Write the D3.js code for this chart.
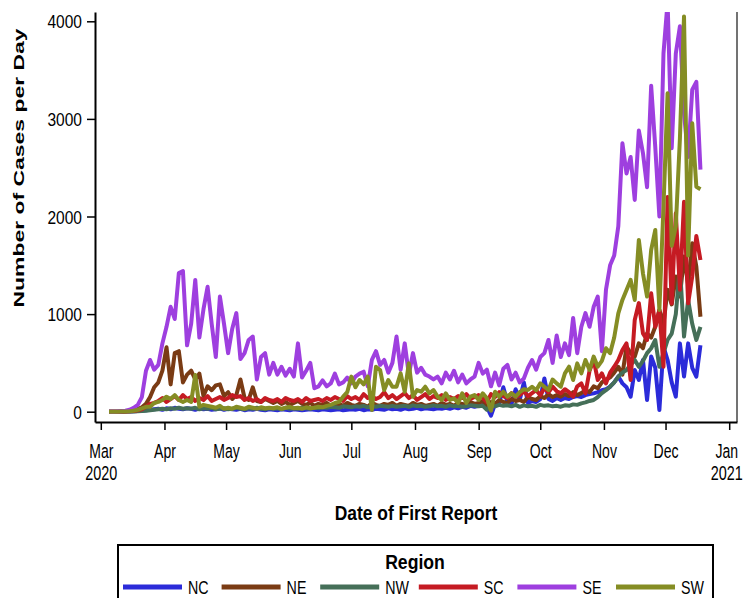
<!DOCTYPE html>
<html>
<head>
<meta charset="utf-8">
<script src="https://cdn.jsdelivr.net/npm/d3@7"></script>
<style>
  body { margin: 0; background: #fff; }
  svg { display: block; }
  text { font-family: "Liberation Sans", Arial, sans-serif; fill: #000; }
</style>
</head>
<body>
<script>
// regions and colours
var regions = ["NC", "NE", "NW", "SC", "SE", "SW"];
var colors = ["#2b2bd9", "#7a3b14", "#456f58", "#c51b23", "#9e3fdf", "#858d24"];

// one value every stepDays days, starting at firstDay
var firstDay = "2020-03-05";
var stepDays = 2;

var nc = [0, 0, 0, 0, 1, 2, 4, 6, 10, 15,
  20, 25, 30, 20, 35, 25, 40, 30, 25, 35,
  30, 20, 35, 25, 30, 20, 25, 35, 20, 30,
  25, 20, 30, 15, 25, 20, 30, 20, 15, 25,
  20, 15, 25, 20, 15, 25, 20, 15, 20, 25,
  20, 15, 25, 20, 15, 20, 25, 15, 20, 25,
  20, 30, 15, 25, 20, 30, 25, 20, 35, 25,
  30, 20, 35, 25, 30, 40, 25, 35, 30, 25,
  35, 30, 40, 30, 45, 35, 50, 40, 60, 50,
  60, 70, 50, -40, 80, 90, 250, 100, 80, 230,
  120, 300, 90, 110, 100, 130, 340, 130, 110, 140,
  120, 140, 130, 150, 160, 150, 170, 180, 188, 200,
  220, 230, 256, 300, 360, 290, 250, 154, 427, 325,
  530, 120, 565, 450, 17, 666, 530, 300, 154, 700,
  360, 700, 450, 360, 680];

var ne = [0, 0, 0, 3, 5, 10, 20, 30, 45, 80,
  150, 250, 300, 420, 660, 280, 600, 620, 300, 380,
  420, 330, 390, 160, 260, 220, 270, 280, 160, 200,
  130, 170, 330, 140, 120, 250, 110, 100, 130, 110,
  90, 110, 80, 100, 70, 90, 110, 80, 70, 90,
  60, 80, 70, 90, 60, 70, 80, 60, 90, 70,
  60, 80, 70, 50, 90, 70, 60, 80, 70, 90,
  60, 80, 70, 60, 90, 70, 80, 60, 70, 80,
  60, 90, 70, 80, 60, 90, 80, 70, 100, 80,
  90, 110, 60, 100, 80, 120, 100, 90, 130, 110,
  120, 100, 150, 130, 120, 160, 140, 180, 150, 170,
  154, 180, 160, 200, 170, 190, 220, 200, 260, 240,
  300, 330, 350, 400, 460, 380, 666, 600, 565, 700,
  650, 803, 760, 870, 1042, 900, 1250, 1100, 1385, 1180,
  1590, 1300, 1727, 1486, 973];

var nw = [0, 0, 0, 0, 1, 2, 3, 5, 8, 10,
  15, 20, 25, 30, 25, 35, 30, 40, 30, 35,
  30, 40, 25, 35, 30, 40, 25, 30, 35, 25,
  30, 40, 30, 25, 35, 30, 40, 30, 25, 35,
  30, 35, 25, 40, 30, 35, 30, 40, 35, 30,
  40, 35, 45, 40, 50, 45, 40, 55, 50, 45,
  55, 50, 60, 45, 55, 50, 60, 55, 50, 60,
  50, 55, 60, 50, 65, 55, 60, 50, 55, 65,
  55, 60, 50, 65, 55, 60, 50, 55, 65, 60,
  55, 60, 20, 65, 55, 70, 60, 65, 55, 70,
  50, 65, 55, 60, 50, 70, 60, 65, 55, 60,
  51, 65, 60, 75, 70, 85, 95, 110, 120, 150,
  190, 220, 256, 300, 360, 400, 427, 480, 530, 460,
  520, 600, 650, 735, 460, 600, 735, 800, 1000, 1486,
  770, 1145, 900, 735, 870];

var sc = [0, 0, 0, 1, 3, 5, 8, 15, 25, 50,
  80, 90, 110, 140, 100, 130, 160, 120, 170, 130,
  150, 110, 140, 120, 160, 110, 130, 150, 120, 140,
  170, 150, 160, 120, 140, 110, 130, 100, 140, 120,
  110, 130, 100, 140, 120, 110, 130, 100, 140, 110,
  120, 130, 110, 140, 120, 150, 130, 110, 160, 130,
  150, 120, 180, 140, 160, 130, 150, 200, 140, 170,
  130, 160, 190, 140, 170, 120, 150, 180, 130, 160,
  140, 170, 120, 150, 130, 160, 140, 180, 130, 150,
  170, 140, 100, 180, 150, 200, 160, 140, 190, 150,
  170, 210, 160, 190, 220, 170, 240, 200, 256, 210,
  188, 230, 200, 154, 260, 290, 188, 420, 530, 325,
  393, 290, 400, 461, 530, 632, 700, 325, 940, 1113,
  803, 735, 1213, 870, 1042, 461, 2200, 1110, 2033, 1250,
  2150, 1110, 1385, 1800, 1554];

var se = [0, 0, 2, 5, 10, 20, 40, 70, 150, 420,
  530, 430, 480, 700, 870, 1075, 950, 1420, 1440, 680,
  900, 1350, 760, 1050, 1280, 900, 560, 1180, 900, 600,
  850, 1010, 540, 600, 735, 770, 330, 560, 600, 380,
  500, 380, 460, 370, 440, 360, 700, 350, 420, 500,
  240, 260, 320, 260, 290, 390, 280, 300, 350, 290,
  360, 390, 410, 260, 530, 620, 480, 530, 400, 500,
  770, 430, 700, 380, 600, 400, 450, 380, 360, 330,
  360, 290, 400, 330, 420, 300, 380, 290, 330, 360,
  500, 390, 430, 260, 400, 270, 440, 480, 330, 400,
  300, 340, 450, 530, 430, 560, 600, 735, 500, 780,
  560, 700, 580, 960, 600, 870, 1010, 870, 1075, 1180,
  620, 1250, 1500, 1600, 1900, 2750, 2440, 2610, 2170, 2880,
  2650, 2300, 3340, 2710, 2000, 3670, 4200, 2700, 3670, 3950,
  3060, 2610, 3300, 3380, 2480];

var sw = [0, 0, 0, 1, 2, 5, 10, 20, 35, 50,
  51, 89, 100, 120, 154, 130, 170, 120, 100, 120,
  100, 375, 51, 70, 60, 50, 40, 60, 30, 40,
  30, 50, 40, 30, 50, 40, 30, 45, 35, 40,
  35, 45, 30, 40, 50, 35, 40, 30, 45, 35,
  40, 50, 45, 60, 70, 89, 100, 154, 200, 360,
  250, 325, 280, 360, 17, 460, 427, 222, 325, 256,
  256, 393, 205, 495, 154, 222, 205, 256, 188, 222,
  154, 120, 188, 120, 137, 89, 188, 89, 154, 170,
  120, 188, 137, 10, 205, 154, 205, 154, 188, 154,
  200, 230, 222, 256, 220, 290, 256, 222, 330, 290,
  256, 393, 461, 325, 495, 393, 530, 427, 565, 461,
  520, 650, 600, 760, 1008, 1145, 1247, 1350, 1145, 1760,
  1418, 1180, 1657, 1862, 1042, 2100, 3262, 1700, 1900, 2800,
  4050, 1600, 2955, 2305, 2280];

var seriesValues = [nc, ne, nw, sc, se, sw];

// axis ticks
var yTicks = [0, 1000, 2000, 3000, 4000];
var monthTicks = ["2020-03-01", "2020-04-01", "2020-05-01", "2020-06-01", "2020-07-01", "2020-08-01",
  "2020-09-01", "2020-10-01", "2020-11-01", "2020-12-01", "2021-01-01"];
var monthLabels = ["Mar", "Apr", "May", "Jun", "Jul", "Aug", "Sep", "Oct", "Nov", "Dec", "Jan"];
var yearLabels = ["2020", "", "", "", "", "", "", "", "", "", "2021"];

var w = 744, h = 598;
var pl = 95, pr = 737, pt = 12, pb = 422; // plot frame

var parseDay = d3.utcParse("%Y-%m-%d");
var start = parseDay(firstDay);

// x: Mar 1 at 100.8, Jan 1 at 729.2, then widened to the frame
var x = d3.scaleUtc().domain([parseDay("2020-03-01"), parseDay("2021-01-01")]).range([100.8, 729.2]);
x.domain([x.invert(pl), x.invert(pr)]).range([pl, pr]);

var y = d3.scaleLinear().domain([0, 4000]).range([411.7, 21.3]);
y.domain([y.invert(pb), y.invert(pt)]).range([pb, pt]);

var svg = d3.select("body").append("svg").attr("width", w).attr("height", h);

svg.append("clipPath").attr("id", "plotclip")
  .append("rect").attr("x", pl).attr("y", pt).attr("width", pr - pl).attr("height", pb - pt);

// helper for horizontally condensed text
function label(parent, tx, ty, str, size, sx, anchor, bold) {
  return parent.append("text")
    .attr("transform", "translate(" + tx + "," + ty + ") scale(" + sx + ",1)")
    .attr("text-anchor", anchor)
    .attr("font-size", size + "px")
    .attr("font-weight", bold ? "bold" : "normal")
    .text(str);
}

// lines
var line = d3.line()
  .x(function(d) { return x(d.date); })
  .y(function(d) { return y(d.value); });

var lines = svg.append("g").attr("clip-path", "url(#plotclip)");
seriesValues.forEach(function(vals, i) {
  var pts = vals.map(function(v, k) { return { date: d3.utcDay.offset(start, k * stepDays), value: v }; });
  lines.append("path")
    .attr("d", line(pts))
    .attr("fill", "none")
    .attr("stroke", colors[i])
    .attr("stroke-width", 4)
    .attr("stroke-linejoin", "round");
});

// right border
svg.append("line").attr("x1", pr).attr("x2", pr).attr("y1", pt).attr("y2", pb)
  .attr("stroke", "#444").attr("stroke-width", 1.5);

// y axis
var yAxis = svg.append("g").attr("transform", "translate(" + pl + ",0)")
  .call(d3.axisLeft(y).tickValues(yTicks).tickSize(8).tickSizeOuter(0).tickFormat(""));
yAxis.select(".domain").attr("stroke-width", 2);
yAxis.selectAll(".tick line").attr("stroke-width", 1.5);
yAxis.selectAll(".tick").each(function(d) {
  label(d3.select(this), -13, 6.5, d3.format("d")(d), 18.5, 0.84, "end", false);
});

// x axis
var xAxis = svg.append("g").attr("transform", "translate(0," + pb + ")")
  .call(d3.axisBottom(x).tickValues(monthTicks.map(parseDay)).tickSize(8).tickSizeOuter(0).tickFormat(""));
xAxis.select(".domain").attr("stroke-width", 2);
xAxis.selectAll(".tick line").attr("stroke-width", 1.5);
xAxis.selectAll(".tick").each(function(d, i) {
  var g = d3.select(this);
  var shift = i === monthTicks.length - 1 ? -3 : 0;
  label(g, shift, 36, monthLabels[i], 19.5, 0.72, "middle", false);
  if (yearLabels[i]) label(g, shift, 58, yearLabels[i], 19.5, 0.74, "middle", false);
});

// axis titles
label(svg, (pl + pr) / 2, 520, "Date of First Report", 20.5, 0.85, "middle", true);
svg.append("text")
  .attr("transform", "translate(24,168) rotate(-90) scale(1.48,1)")
  .attr("text-anchor", "middle")
  .attr("font-size", "15.5px")
  .attr("font-weight", "bold")
  .text("Number of Cases per Day");

// legend
var legend = svg.append("g");
legend.append("rect").attr("x", 118).attr("y", 545).attr("width", 595).attr("height", 80)
  .attr("fill", "none").attr("stroke", "#000").attr("stroke-width", 2);
label(legend, 415, 569, "Region", 21, 0.84, "middle", true);
regions.forEach(function(r, i) {
  var lx = 123 + i * 98.6;
  legend.append("line").attr("x1", lx).attr("x2", lx + 59).attr("y1", 587).attr("y2", 587)
    .attr("stroke", colors[i]).attr("stroke-width", 5);
  label(legend, lx + 65, 594, r, 19, 0.75, "start", false);
});
</script>
</body>
</html>
